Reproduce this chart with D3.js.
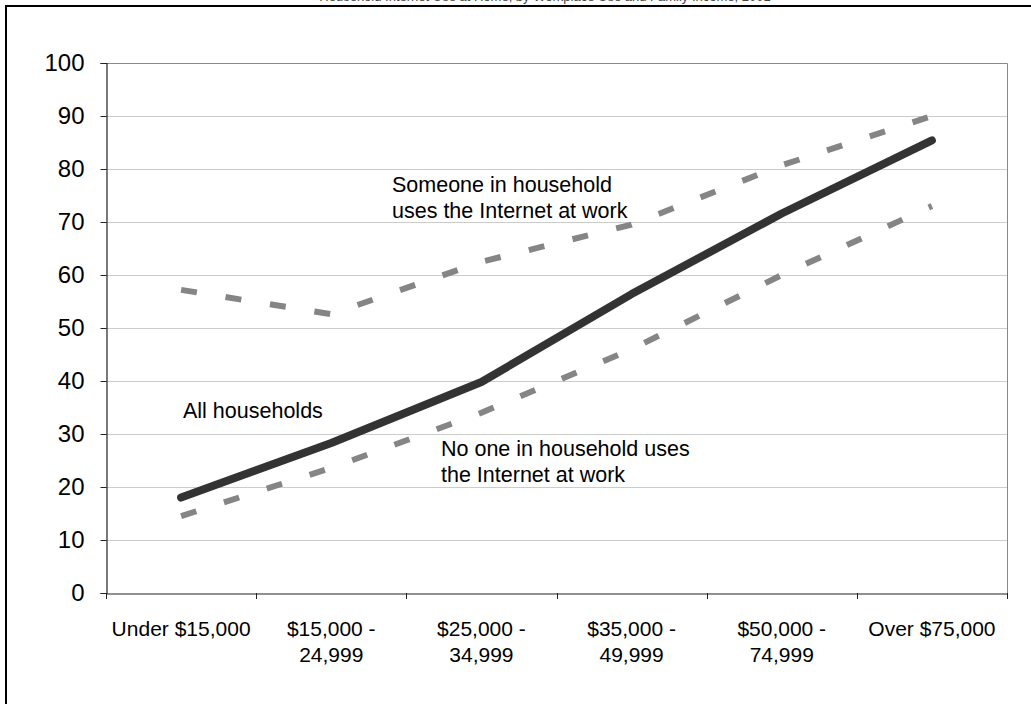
<!DOCTYPE html>
<html>
<head>
<meta charset="utf-8">
<script src="https://cdn.jsdelivr.net/npm/d3@7"></script>
<style>
  body { margin: 0; background: #fff; }
  svg { display: block; font-family: Arial, "Liberation Sans", sans-serif; }
</style>
</head>
<body>
<script>
const categories = [
  "Under $15,000",
  "$15,000 - 24,999",
  "$25,000 - 34,999",
  "$35,000 - 49,999",
  "$50,000 - 74,999",
  "Over $75,000"
];
const allHouseholds = [18, 28.3, 39.8, 56.4, 71.6, 85.4];
const someoneAtWork = [57.2, 52.6, 62.5, 69.5, 80.7, 90];
const noOneAtWork = [14.5, 23.6, 34, 46, 60, 73];
const yTicks = [0, 10, 20, 30, 40, 50, 60, 70, 80, 90, 100];

const width = 1031,
  height = 704;
const margin = { top: 63, right: 24, bottom: 111, left: 106 };

const svg = d3
  .select("body")
  .append("svg")
  .attr("width", width)
  .attr("height", height);

// outer frame, right and bottom edges run off the page
svg
  .append("rect")
  .attr("x", 6)
  .attr("y", 6)
  .attr("width", width + 20)
  .attr("height", height + 20)
  .attr("fill", "none")
  .attr("stroke", "#000")
  .attr("stroke-width", 2);

// title sits above the frame and is mostly clipped, as in the source
svg
  .append("text")
  .attr("x", 545)
  .attr("y", 1)
  .attr("text-anchor", "middle")
  .attr("font-size", 13)
  .attr("fill", "#444")
  .text("Household Internet Use at Home, by Workplace Use and Family Income, 2001");

const x = d3
  .scaleBand()
  .domain(categories)
  .range([margin.left, width - margin.right]);

const y = d3
  .scaleLinear()
  .domain([0, 100])
  .range([height - margin.bottom, margin.top]);

// gridlines
svg
  .append("g")
  .selectAll("line")
  .data(yTicks.filter((d) => d > 0 && d < 100))
  .join("line")
  .attr("x1", margin.left)
  .attr("x2", width - margin.right)
  .attr("y1", (d) => Math.round(y(d)) + 0.5)
  .attr("y2", (d) => Math.round(y(d)) + 0.5)
  .attr("stroke", "#cccccc");

// plot area border (top and right)
svg
  .append("path")
  .attr(
    "d",
    `M${margin.left},${y(100) + 0.5}H${width - margin.right + 0.5}V${y(0)}`
  )
  .attr("fill", "none")
  .attr("stroke", "#888");

const yAxis = svg
  .append("g")
  .attr("transform", `translate(${margin.left + 0.5},0)`)
  .call(d3.axisLeft(y).tickValues(yTicks).tickSize(6).tickPadding(16));

const xAxis = svg
  .append("g")
  .attr("transform", `translate(0,${y(0) + 0.5})`)
  .call(d3.axisBottom(x).tickSize(0));

yAxis.selectAll("text").attr("font-size", 24).attr("fill", "#000");
[yAxis, xAxis].forEach((a) => {
  a.select(".domain").attr("stroke", "#222").attr("stroke-width", 1.2);
  a.selectAll("line").attr("stroke", "#222");
  a.attr("font-family", null);
});

// x ticks sit on band edges, not centres
svg
  .append("g")
  .selectAll("line")
  .data(categories.concat([null]))
  .join("line")
  .attr("x1", (d, i) => Math.round(margin.left + i * x.bandwidth()) + 0.5)
  .attr("x2", (d, i) => Math.round(margin.left + i * x.bandwidth()) + 0.5)
  .attr("y1", y(0))
  .attr("y2", y(0) + 6)
  .attr("stroke", "#222");

// two-line category labels
xAxis
  .selectAll(".tick text")
  .attr("font-size", 21)
  .attr("fill", "#000")
  .attr("dy", null)
  .attr("y", 28)
  .each(function (d) {
    const t = d3.select(this);
    const parts = d.includes(" - ")
      ? [d.split(" - ")[0] + " -", d.split(" - ")[1]]
      : [d];
    t.text(null);
    parts.forEach((p, i) => {
      t.append("tspan")
        .attr("x", 0)
        .attr("dy", i == 0 ? "0.71em" : "1.24em")
        .text(p);
    });
  });

const line = d3
  .line()
  .x((d, i) => x(categories[i]) + x.bandwidth() / 2)
  .y((d) => y(d));

[someoneAtWork, noOneAtWork].forEach((s) => {
  svg
    .append("path")
    .datum(s)
    .attr("d", line)
    .attr("fill", "none")
    .attr("stroke", "#858585")
    .attr("stroke-width", 6)
    .attr("stroke-dasharray", "16,29");
});

svg
  .append("path")
  .datum(allHouseholds)
  .attr("d", line)
  .attr("fill", "none")
  .attr("stroke", "#333")
  .attr("stroke-width", 8)
  .attr("stroke-linecap", "round")
  .attr("stroke-linejoin", "round");

// series labels
const notes = [
  { lines: ["Someone in household", "uses the Internet at work"], x: 392, y: 192 },
  { lines: ["All households"], x: 183, y: 418 },
  { lines: ["No one in household uses", "the Internet at work"], x: 441, y: 456 }
];

svg
  .append("g")
  .selectAll("text")
  .data(notes)
  .join("text")
  .attr("x", (d) => d.x)
  .attr("y", (d) => d.y)
  .attr("font-size", 21.5)
  .attr("fill", "#000")
  .each(function (d) {
    d3.select(this)
      .selectAll("tspan")
      .data(d.lines)
      .join("tspan")
      .attr("x", d.x)
      .attr("dy", (l, i) => (i == 0 ? 0 : 26))
      .text((l) => l);
  });
</script>
</body>
</html>
